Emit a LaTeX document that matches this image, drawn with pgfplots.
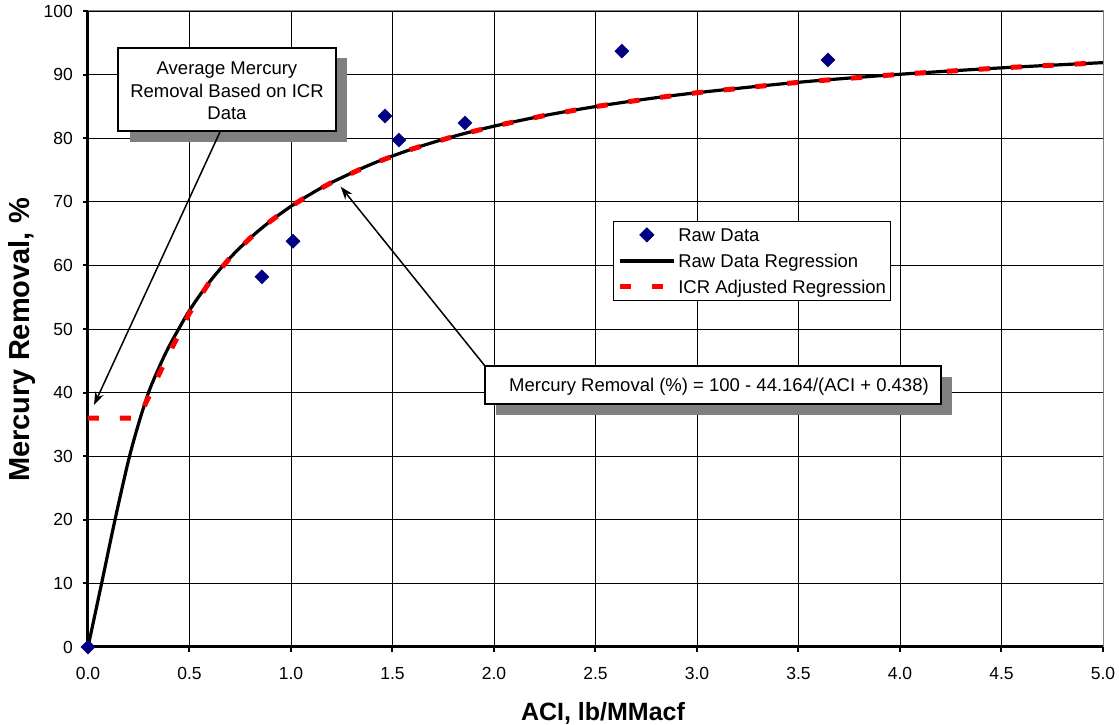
\documentclass[border=0pt]{standalone}
\usepackage{fontspec}
\setmainfont{Liberation Sans}
\usepackage{pgfplots}
\pgfplotsset{compat=1.18}
\usetikzlibrary{arrows.meta}
\definecolor{navyc}{RGB}{0,0,128}
\definecolor{shadowc}{RGB}{128,128,128}
\begin{document}
\begin{tikzpicture}
\useasboundingbox (-88pt,-78pt) rectangle (1031pt,647pt);
\begin{axis}[
  scale only axis, width=1015pt, height=636pt,
  xmin=0, xmax=5, ymin=0, ymax=100,
  xtick={0,0.5,...,5}, ytick={0,10,...,100},
  axis lines=left, axis line style={-, line width=3pt, black},
  tick align=outside, major tick length=5pt,
  tick style={line width=2pt, black},
  grid=major, major grid style={black, line width=0.8pt},
  clip=false,
  /pgf/number format/assume math mode=true,
  ticklabel style={font=\fontsize{17.5}{20}\selectfont},
  xticklabel={\pgfmathprintnumber[fixed,fixed zerofill,precision=1]{\tick}},
  yticklabel style={anchor=east, inner sep=0pt, xshift=-10pt},
  xticklabel style={anchor=north, inner sep=0pt, yshift=-15pt},
  legend style={at={(0.5172,0.6698)}, anchor=north west, draw=black, line width=0.8pt,
    fill=white, font=\fontsize{18.5}{22}\selectfont,
    inner xsep=4pt, inner ysep=3pt, row sep=5pt,
    nodes={inner sep=0pt, text height=17pt, text depth=4pt},
    /tikz/every odd column/.append style={column sep=2pt}},
  legend cell align=left,
  legend image code/.code={\draw[mark repeat=2,mark phase=2,#1] plot coordinates {(0pt,0pt) (27pt,0pt) (54pt,0pt)};},
]
\addplot[only marks, mark=square*, mark size=5pt, mark options={rotate=45, fill=navyc, draw=navyc}, color=navyc]
 coordinates {(0,0) (0.857,58.2) (1.01,63.8) (1.463,83.5) (1.532,79.7) (1.857,82.4) (2.63,93.7) (3.645,92.3)};
\addlegendentry{Raw Data}
\addplot[black, line width=3.2pt, line join=round, smooth, tension=0.5]
 coordinates {(0,0) (0.067,10) (0.133,20) (0.2,29.4) (0.25,35.2) (0.3,40.16) (0.35,43.95) (0.4,47.30) (0.5,52.92) (0.6,57.45) (0.7,61.19) (0.8,64.33) (0.9,66.99) (1.0,69.29) (1.1,71.28) (1.2,73.04) (1.4,75.97) (1.6,78.33) (1.8,80.27) (2.0,81.89) (2.25,83.57) (2.5,84.97) (2.75,86.15) (3.0,87.15) (3.5,88.79) (4.0,90.05) (4.5,91.06) (5.0,91.88)};
\addlegendentry{Raw Data Regression}
\addplot[red, line width=5pt, dash pattern=on 11pt off 21pt]
 coordinates {(0,36) (0.25,36) (0.3,39.4) (0.35,42.9) (0.4,46.2) (0.45,49.3) (0.5,52.5) (0.6,57.45) (0.7,61.19) (0.8,64.33) (0.9,66.99) (1.0,69.29) (1.1,71.28) (1.2,73.04) (1.4,75.97) (1.6,78.33) (1.8,80.27) (2.0,81.89) (2.25,83.57) (2.5,84.97) (2.75,86.15) (3.0,87.15) (3.5,88.79) (4.0,90.05) (4.5,91.06) (5.0,91.88)};
\addlegendentry{ICR Adjusted Regression}
\end{axis}
% top and right borders
\draw[shadowc, line width=1pt] (0,636pt) -- (1015pt,636pt) -- (1015pt,0pt);
% axis titles
\node[font=\fontsize{25}{28}\selectfont\bfseries, anchor=base] at (515pt,-74pt) {ACI, lb/MMacf};
\node[font=\fontsize{29}{32}\selectfont\bfseries, anchor=base, rotate=90] at (-58pt,307pt) {Mercury Removal, \%};
% annotation 1
\fill[shadowc] (42pt,505pt) rectangle (259pt,589pt);
\filldraw[fill=white, draw=black, line width=1.2pt] (30pt,516pt) rectangle (248pt,599pt);
\node[align=center, font=\fontsize{18.5}{22.5}\selectfont, inner sep=0pt] at (139pt,556pt) {Average Mercury\\Removal Based on ICR\\Data};
\draw[black, line width=1.5pt, -{Stealth[length=13pt,width=9pt]}] (132pt,515pt) -- (6pt,242pt);
% annotation 2
\fill[shadowc] (408pt,232pt) rectangle (864pt,270pt);
\filldraw[fill=white, draw=black, line width=1.2pt] (397pt,243pt) rectangle (853pt,281pt);
\node[font=\fontsize{18.5}{22}\selectfont, anchor=base, inner sep=0pt] at (631pt,255pt) {Mercury Removal (\%) = 100 - 44.164/(ACI + 0.438)};
\draw[black, line width=1.5pt, -{Stealth[length=13pt,width=9pt]}] (397pt,281pt) -- (252.7pt,460.3pt);
\end{tikzpicture}
\end{document}
